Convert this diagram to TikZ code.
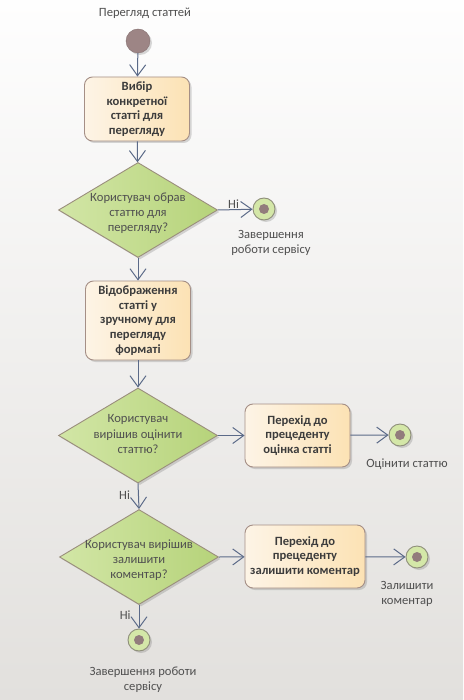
\documentclass[tikz,border=0pt]{standalone}
\usepackage{fontspec}
\setmainfont{Carlito}
\usetikzlibrary{arrows.meta,shapes.geometric,shadows}
\definecolor{linec}{HTML}{5B6A88}
\definecolor{boxborder}{HTML}{A58F86}
\definecolor{boxL}{HTML}{FDF4E6}
\definecolor{boxR}{HTML}{FCE2B4}
\definecolor{diaL}{HTML}{D2E6A6}
\definecolor{diaR}{HTML}{B6D37A}
\definecolor{diaborder}{HTML}{9A8E7C}
\definecolor{finfill}{HTML}{D4E7A8}
\definecolor{finborder}{HTML}{8E8E7A}
\definecolor{dotc}{HTML}{927C7C}
\definecolor{startc}{HTML}{9D8585}
\definecolor{txt}{HTML}{3C3C3C}
\definecolor{lbl}{HTML}{505050}
\definecolor{bgtop}{HTML}{FEFEFE}
\definecolor{bgbot}{HTML}{E2E0DD}
\begin{document}
\begin{tikzpicture}[x=1pt,y=-1pt,
  font=\fontsize{12.6}{15.2}\selectfont,
  shadowed/.style={drop shadow={shadow xshift=2pt,shadow yshift=-2pt,opacity=0.25,fill=black!60}},
  actbox/.style={draw=boxborder,line width=0.9pt,rounded corners=8pt,left color=boxL,right color=boxR,
    minimum width=#1,inner sep=2pt,align=center,text=txt,font=\fontsize{12.6}{14.8}\selectfont\bfseries,shadowed},
  decis/.style={diamond,draw=diaborder,line width=0.9pt,left color=diaL,right color=diaR,
    minimum width=159pt,minimum height=95pt,inner sep=0pt,aspect=1.68,shadowed},
  dtext/.style={align=center,text=lbl},
  lab/.style={align=center,text=lbl},
  finalnode/.style={circle,draw=finborder,line width=0.9pt,fill=finfill,minimum size=22pt,inner sep=0pt,shadowed},
  dotnode/.style={circle,fill=dotc,minimum size=10pt,inner sep=0pt},
  flow/.style={draw=linec,line width=1pt,-{Straight Barb[length=11pt,width=16pt,line width=1pt]}}
]
\useasboundingbox (0,0) rectangle (463,700);
\fill[top color=bgtop,bottom color=bgbot] (0,0) rectangle (463,700);

\node[lab] (title) at (145,13) {Перегляд статтей};
\node[circle,fill=startc,draw=startc!85!black,minimum size=24pt,inner sep=0pt,shadowed] (start) at (138,41) {};

\node[actbox=105pt,minimum height=64pt] (b1) at (137,109) {Вибір\\конкретної\\статті для\\перегляду};

\node[decis] (d1) at (138,210) {};
\node[dtext] (d1t) at (138,213) {Користувач обрав\\статтю для\\перегляду?};

\node[finalnode] (f1) at (264,209) {};
\node[dotnode] (f1d) at (264,209) {};
\node[lab] (f1l) at (271,243) {Завершення\\роботи сервісу};

\node[actbox=105pt,minimum height=79pt] (b2) at (138,320.5) {Відображення\\статті у\\зручному для\\перегляду\\форматі};

\node[decis] (d2) at (138,435.5) {};
\node[dtext] (d2t) at (138,434) {Користувач\\вирішив оцінити\\статтю?};

\node[actbox=105pt,minimum height=63pt] (b3) at (297.5,435.5) {Перехід до\\прецеденту\\оцінка статті};
\node[finalnode] (f2) at (400,435) {};
\node[dotnode] (f2d) at (400,435) {};
\node[lab] (f2l) at (407,464) {Оцінити статтю};

\node[decis] (d3) at (139,557) {};
\node[dtext] (d3t) at (139,560) {Користувач вирішив\\залишити\\коментар?};

\node[actbox=120pt,minimum height=63pt] (b4) at (305,556.5) {Перехід до\\прецеденту\\залишити коментар};
\node[finalnode] (f3) at (417,557) {};
\node[dotnode] (f3d) at (417,557) {};
\node[lab] (f3l) at (407,594) {Залишити\\коментар};

\node[finalnode] (f4) at (139,640) {};
\node[dotnode] (f4d) at (139,640) {};
\node[lab] (f4l) at (143,680) {Завершення роботи\\сервісу};

\draw[flow] (start) -- (b1);
\draw[flow] (b1) -- (d1);
\draw[flow] (d1.east) -- node[lab,above,pos=0.45,inner sep=1pt] (n1) {Ні} (f1);
\draw[flow] (d1) -- (b2);
\draw[flow] (b2) -- (d2);
\draw[flow] (d2.east) -- (b3);
\draw[flow] (b3) -- (f2);
\draw[flow] (d2.south) -- node[lab,left,pos=0.45,inner sep=8pt] (n2) {Ні} (d3.north);
\draw[flow] (d3.east) -- (b4);
\draw[flow] (b4) -- (f3);
\draw[flow] (d3.south) -- node[lab,left,pos=0.45,inner sep=8pt] (n3) {Ні} (f4);
\end{tikzpicture}
\end{document}
